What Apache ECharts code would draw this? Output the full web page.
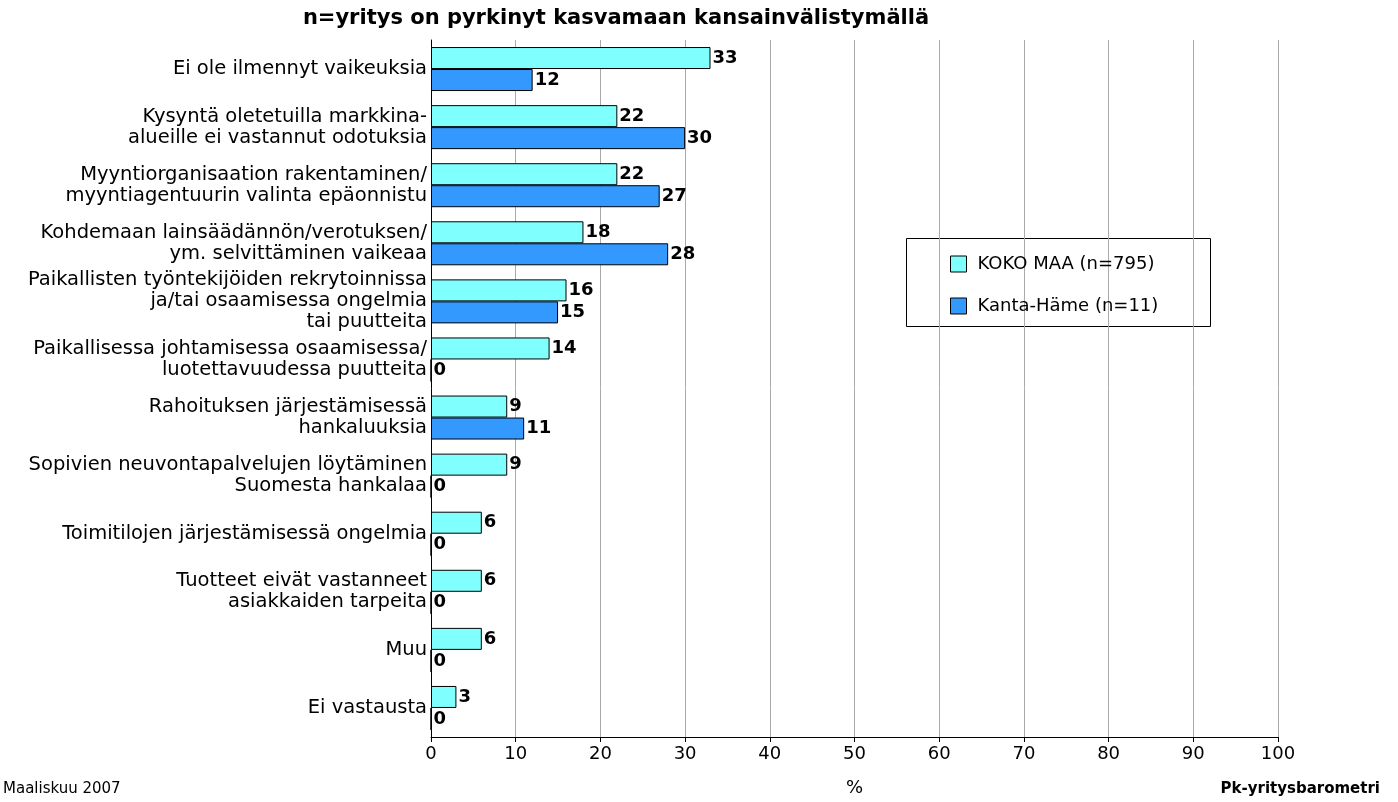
<!DOCTYPE html>
<html><head><meta charset="utf-8">
<script src="https://cdn.jsdelivr.net/npm/echarts@6/dist/echarts.min.js"></script>
<style>html,body{margin:0;padding:0;background:#fff}#c{width:1398px;height:802px}</style>
</head><body><div id="c"></div>
<script>
const categories = [
 "Ei ole ilmennyt vaikeuksia",
 "Kysyntä oletetuilla markkina-\nalueille ei vastannut odotuksia",
 "Myyntiorganisaation rakentaminen/\nmyyntiagentuurin valinta epäonnistu",
 "Kohdemaan lainsäädännön/verotuksen/\nym. selvittäminen vaikeaa",
 "Paikallisten työntekijöiden rekrytoinnissa\nja/tai osaamisessa ongelmia\ntai puutteita",
 "Paikallisessa johtamisessa osaamisessa/\nluotettavuudessa puutteita",
 "Rahoituksen järjestämisessä\nhankaluuksia",
 "Sopivien neuvontapalvelujen löytäminen\nSuomesta hankalaa",
 "Toimitilojen järjestämisessä ongelmia",
 "Tuotteet eivät vastanneet\nasiakkaiden tarpeita",
 "Muu",
 "Ei vastausta"
];
const kokoMaa = [33,22,22,18,16,14,9,9,6,6,6,3];
const kantaHame = [12,30,27,28,15,0,11,0,0,0,0,0];
const xTicks = [0,10,20,30,40,50,60,70,80,90,100];
const F = 'DejaVu Sans';
const lbl = {show:true,position:'right',color:'#000',fontWeight:'bold',fontSize:18,fontFamily:F,distance:2};
const chart = echarts.init(document.getElementById('c'));
chart.setOption({
 animation:false,
 textStyle:{fontFamily:F},
 grid:{left:431,right:120,top:40,bottom:62},
 legend:{orient:'vertical',left:945,top:250,itemGap:24,icon:'rect',
   itemWidth:16,itemHeight:16,
   itemStyle:{borderColor:'#000',borderWidth:1},
   textStyle:{fontSize:18,color:'#000',fontFamily:F,padding:[0,0,0,6]},
   data:['KOKO MAA (n=795)','Kanta-Häme (n=11)']},
 xAxis:{type:'value',min:0,max:100,interval:10,
   axisLine:{show:true,lineStyle:{color:'#000'}},axisTick:{show:true,length:5,lineStyle:{color:'#000'}},
   axisLabel:{fontSize:18,color:'#000',fontFamily:F,formatter:v=>xTicks.includes(v)?String(v):''},
   splitLine:{show:true,lineStyle:{color:'#aaa'}},
   name:'%',nameLocation:'middle',nameGap:42,nameTextStyle:{fontSize:18,color:'#000',fontFamily:F}},
 yAxis:{type:'category',data:categories,inverse:true,
   axisLine:{show:true,lineStyle:{color:'#000'}},axisTick:{show:false},
   axisLabel:{fontSize:19.5,color:'#000',fontFamily:F,lineHeight:21,margin:4,align:'right'}},
 series:[
  {name:'KOKO MAA (n=795)',type:'bar',data:kokoMaa,barWidth:22,barGap:'0%',
   itemStyle:{color:'#80FFFF',borderColor:'#000',borderWidth:1},label:lbl},
  {name:'Kanta-Häme (n=11)',type:'bar',data:kantaHame,barWidth:22,
   itemStyle:{color:'#3399FF',borderColor:'#000',borderWidth:1},label:lbl}
 ],
 graphic:[
  {type:'rect',left:904,top:236,shape:{width:304,height:88},style:{fill:'none',stroke:'#000',lineWidth:1},z:-1},
  {type:'text',x:616,y:8,style:{text:'n=yritys on pyrkinyt kasvamaan kansainvälistymällä',align:'center',fontSize:21,fontWeight:'bold',fill:'#000',fontFamily:F}},
  {type:'text',left:3,top:782,style:{text:'Maaliskuu 2007',fontSize:15,fill:'#000',fontFamily:F}},
  {type:'text',right:18,top:782,style:{text:'Pk-yritysbarometri',fontSize:15,fontWeight:'bold',fill:'#000',fontFamily:F}}
 ]
});
</script></body></html>
